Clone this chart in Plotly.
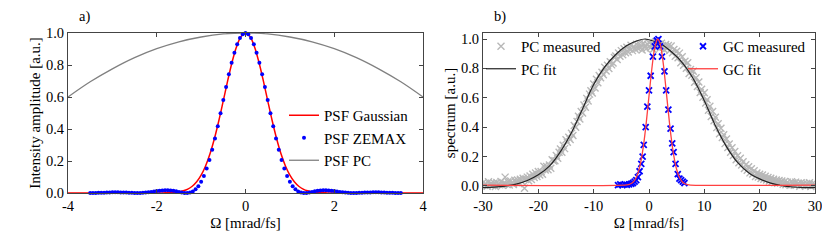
import plotly.graph_objects as go

FONT = "Liberation Serif, Times New Roman, serif"

# ---------------- panel a) data ----------------
gauss_x = [-4.0, -3.0, -2.2, -2.0, -1.9, -1.8, -1.7, -1.6, -1.5, -1.4, -1.3, -1.2, -1.1, -1.0,
           -0.9, -0.8, -0.7, -0.6, -0.5, -0.4, -0.3, -0.2, -0.1, 0.0,
           0.1, 0.2, 0.3, 0.4, 0.5, 0.6, 0.7, 0.8, 0.9, 1.0, 1.1, 1.2, 1.3, 1.4,
           1.5, 1.6, 1.7, 1.8, 1.9, 2.0, 2.2, 3.0, 4.0]
gauss_y = [0.0, 0.0, 0.0, 0.0002, 0.0004, 0.0008, 0.0017, 0.0036, 0.0071, 0.0135, 0.0244, 0.0422, 0.0700, 0.1110,
           0.1686, 0.2449, 0.3406, 0.4533, 0.5773, 0.7035, 0.8205, 0.9158, 0.9783, 1.0,
           0.9783, 0.9158, 0.8205, 0.7035, 0.5773, 0.4533, 0.3406, 0.2449, 0.1686, 0.1110, 0.0700, 0.0422, 0.0244, 0.0135,
           0.0071, 0.0036, 0.0017, 0.0008, 0.0004, 0.0002, 0.0, 0.0, 0.0]

zemax_x = [round(-3.5 + 0.0625 * j, 4) for j in range(113)]
zemax_y = [0.0000, 0.0002, 0.0005, 0.0010, 0.0016, 0.0023, 0.0030, 0.0036, 0.0040, 0.0041, 0.0041, 0.0037,
           0.0032, 0.0024, 0.0016, 0.0008, 0.0002, 0.0000, 0.0002, 0.0010, 0.0024, 0.0044, 0.0067, 0.0094,
           0.0121, 0.0145, 0.0164, 0.0174, 0.0173, 0.0161, 0.0138, 0.0106, 0.0068, 0.0032, 0.0007, 0.0001,
           0.0028, 0.0100, 0.0229, 0.0427, 0.0705, 0.1070, 0.1525, 0.2068, 0.2698, 0.3405, 0.4175, 0.4980,
           0.5810, 0.6630, 0.7415, 0.8138, 0.8772, 0.9293, 0.9680, 0.9919, 1.0000,
           0.9919, 0.9680, 0.9293, 0.8772, 0.8138, 0.7415, 0.6630, 0.5810,
           0.4980, 0.4175, 0.3405, 0.2698, 0.2068, 0.1525, 0.1070, 0.0705, 0.0427, 0.0229, 0.0100, 0.0028,
           0.0001, 0.0007, 0.0032, 0.0068, 0.0106, 0.0138, 0.0161, 0.0173, 0.0174, 0.0164, 0.0145, 0.0121,
           0.0094, 0.0067, 0.0044, 0.0024, 0.0010, 0.0002, 0.0000, 0.0002, 0.0008, 0.0016, 0.0024, 0.0032,
           0.0037, 0.0041, 0.0041, 0.0040, 0.0036, 0.0030, 0.0023, 0.0016, 0.0010, 0.0005, 0.0002, 0.0000]

pca_x = [-4.0, -3.5, -3.0, -2.5, -2.0, -1.5, -1.0, -0.5, 0.0, 0.5, 1.0, 1.5, 2.0, 2.5, 3.0, 3.5, 4.0]
pca_y = [0.600, 0.695, 0.776, 0.846, 0.902, 0.945, 0.975, 0.994, 1.0,
         0.994, 0.975, 0.945, 0.902, 0.846, 0.776, 0.695, 0.600]

a_xticks = [-4, -2, 0, 2, 4]
a_xlabels = ["-4", "-2", "0", "2", "4"]
a_yticks = [0.0, 0.2, 0.4, 0.6, 0.8, 1.0]
a_ylabels = ["0.0", "0.2", "0.4", "0.6", "0.8", "1.0"]

# ---------------- panel b) data ----------------
pcm_x = [round(-30 + 0.25 * i, 2) for i in range(241)]
pcm_y = [
    0.022, 0.005, 0.015, -0.002, 0.028, 0.010, 0.018, 0.001,
    0.020, -0.003, 0.024, 0.012, 0.008, 0.030, 0.004, 0.019,
    0.060, 0.012, 0.028, 0.006, 0.034, 0.018, 0.010, 0.038,
    0.022, 0.040, 0.015, 0.045, 0.030, 0.052, -0.015, 0.048,
    0.060, 0.035, 0.068, 0.044, 0.080, 0.058, 0.088, 0.065,
    0.098, 0.075, 0.098, 0.079, 0.134, 0.108, 0.133, 0.110,
    0.143, 0.120, 0.179, 0.170, 0.171, 0.207, 0.188, 0.230,
    0.251, 0.229, 0.277, 0.254, 0.314, 0.297, 0.331, 0.316,
    0.358, 0.344, 0.411, 0.399, 0.439, 0.474, 0.455, 0.506,
    0.497, 0.551, 0.535, 0.596, 0.578, 0.625, 0.648, 0.633,
    0.694, 0.667, 0.726, 0.702, 0.751, 0.737, 0.774, 0.757,
    0.808, 0.782, 0.822, 0.799, 0.846, 0.824, 0.837, 0.875,
    0.884, 0.861, 0.905, 0.882, 0.921, 0.893, 0.934, 0.906,
    0.944, 0.912, 0.935, 0.958, 0.921, 0.947, 0.930, 0.965,
    0.937, 0.968, 0.945, 0.925, 0.972, 0.951, 0.934, 0.962,
    0.976, 0.940, 0.962, 0.929, 0.958, 0.981, 0.944, 0.966,
    0.938, 0.971, 0.950, 0.927, 0.963, 0.935, 0.956, 0.922,
    0.952, 0.906, 0.928, 0.882, 0.917, 0.873, 0.904, 0.839,
    0.880, 0.822, 0.849, 0.801, 0.838, 0.766, 0.793, 0.753,
    0.780, 0.706, 0.736, 0.677, 0.708, 0.636, 0.658, 0.604,
    0.635, 0.564, 0.586, 0.515, 0.543, 0.472, 0.506, 0.443,
    0.468, 0.397, 0.424, 0.356, 0.393, 0.329, 0.349, 0.288,
    0.320, 0.261, 0.286, 0.229, 0.260, 0.208, 0.235, 0.179,
    0.205, 0.158, 0.188, 0.142, 0.165, 0.118, 0.144, 0.107,
    0.130, 0.089, 0.117, 0.081, 0.103, 0.064, 0.088, 0.061,
    0.080, 0.050, 0.075, 0.046, 0.066, 0.040, 0.058, 0.033,
    0.052, 0.028, 0.046, 0.022, 0.040, 0.018, 0.037, 0.020,
    0.034, 0.012, 0.030, 0.008, 0.026, 0.014, 0.005, 0.028,
    0.022, 0.004, 0.026, 0.010, 0.018, -0.002, 0.021, 0.007,
    0.019, 0.001, 0.016, 0.006, 0.022, -0.003, 0.014, 0.004,
    0.012]

pcf_x = [-30, -28, -26, -24, -22, -20, -18, -16, -14, -12, -10, -8, -6, -4, -2, -0.7,
         0, 2, 4, 6, 8, 10, 12, 14, 16, 18, 20, 22, 24, 26, 28, 30]
pcf_y = [-0.011, -0.008, -0.001, 0.012, 0.037, 0.076, 0.135, 0.234, 0.364, 0.526, 0.690, 0.810,
         0.895, 0.956, 0.990, 1.0,
         0.995, 0.970, 0.915, 0.840, 0.730, 0.580, 0.410, 0.268, 0.160, 0.090, 0.048, 0.019,
         0.002, -0.007, -0.011, -0.012]

gcm_x = [-5.6, -5.2, -4.8, -4.4, -4.0, -3.6, -3.2, -2.9, -2.6, -2.3, -2.0, -1.7, -1.4, -1.15,
         -0.95, -0.6, -0.3, 0.0, 0.3, 0.7, 1.05, 1.4, 1.7, 2.0, 2.35, 2.8, 3.1, 3.5, 3.9, 4.2,
         4.45, 4.8, 5.2, 5.5, 5.8, 6.1, 6.4]
gcm_y = [0.005, 0.010, 0.005, 0.010, 0.008, 0.010, 0.015, 0.020, 0.030, 0.040, 0.060, 0.100, 0.150, 0.200,
         0.280, 0.400, 0.540, 0.650, 0.750, 0.880, 0.950, 0.990, 1.000, 0.950, 0.880, 0.780, 0.650,
         0.520, 0.390, 0.290, 0.230, 0.150, 0.080, 0.050, 0.040, 0.030, 0.020]

gcf_x = [-30, -4.0, -3.5, -3.0, -2.5, -2.0, -1.5, -1.0, -0.5, 0.0, 0.5, 1.0, 1.5, 1.6, 2.0, 2.5,
         3.0, 3.5, 4.0, 4.5, 5.0, 5.5, 6.0, 6.5, 7.0, 7.5, 30]
gcf_y = [0.005, 0.0074, 0.0116, 0.0217, 0.0438, 0.0865, 0.1606, 0.2748, 0.4297, 0.6120, 0.7927,
         0.9332, 0.9981, 1.0, 0.9697, 0.8559, 0.6866, 0.5006, 0.3322, 0.2012, 0.1118, 0.0578,
         0.0287, 0.0147, 0.0086, 0.0062, 0.005]

b_xticks = [-30, -20, -10, 0, 10, 20, 30]
b_xlabels = ["-30", "-20", "-10", "0", "10", "20", "30"]
b_yticks = [0.0, 0.2, 0.4, 0.6, 0.8, 1.0]
b_ylabels = ["0.0", "0.2", "0.4", "0.6", "0.8", "1.0"]

W, H = 830, 241
OFF = 8  # page body margin of the browser


def px(x):
    return (x - OFF) / W


def py(y):
    return 1 - (y - OFF) / H


fig = go.Figure()

# panel a
fig.add_trace(go.Scatter(x=pca_x, y=pca_y, mode="lines", name="PSF PC", line=dict(color="#808080", width=1.3, shape="spline"),
                         xaxis="x", yaxis="y", legend="legend", legendrank=3))
fig.add_trace(go.Scatter(x=gauss_x, y=gauss_y, mode="lines", name="PSF Gaussian", line=dict(color="#ff0000", width=1.5, shape="spline"),
                         xaxis="x", yaxis="y", legend="legend", legendrank=1, cliponaxis=False))
fig.add_trace(go.Scatter(x=zemax_x, y=zemax_y, mode="markers", name="PSF ZEMAX", marker=dict(color="#0000ff", size=4),
                         xaxis="x", yaxis="y", legend="legend", legendrank=2, cliponaxis=False))

# panel b
fig.add_trace(go.Scatter(x=pcm_x, y=pcm_y, mode="markers", name="PC measured",
                         marker=dict(symbol="x-thin", size=7, line=dict(color="#b8b8b8", width=1.4), color="#b8b8b8"),
                         xaxis="x2", yaxis="y2", legend="legend2"))
fig.add_trace(go.Scatter(x=pcf_x, y=pcf_y, mode="lines", name="PC fit", line=dict(color="#222222", width=1.2, shape="spline"),
                         xaxis="x2", yaxis="y2", legend="legend2"))
fig.add_trace(go.Scatter(x=gcm_x, y=gcm_y, mode="markers", name="GC measured",
                         marker=dict(symbol="x-thin", size=6, line=dict(color="#0000ff", width=1.8), color="#0000ff"),
                         xaxis="x2", yaxis="y2", legend="legend3"))
fig.add_trace(go.Scatter(x=gcf_x, y=gcf_y, mode="lines", name="GC fit", line=dict(color="#ff4040", width=1.3, shape="spline"),
                         xaxis="x2", yaxis="y2", legend="legend3"))

ydom = [py(193), py(33)]

common = dict(showline=True, linecolor="#444444", linewidth=1, mirror="ticks", ticks="inside", ticklen=4,
              tickcolor="#444444", showgrid=False, zeroline=False, automargin=False,
              tickfont=dict(family=FONT, size=14.5, color="black"))
tfont = dict(family=FONT, size=15, color="black")
lfont = dict(family=FONT, size=15, color="black")

fig.update_layout(
    template="none",
    width=W, height=H,
    margin=dict(l=0, r=0, t=0, b=0, autoexpand=False),
    paper_bgcolor="white", plot_bgcolor="white",
    font=dict(family=FONT, size=14, color="black"),
    xaxis=dict(domain=[px(68), px(423)], range=[-4, 4], tickvals=a_xticks, ticktext=a_xlabels, anchor="y",
               title=dict(text="Ω [mrad/fs]", font=tfont, standoff=4), **common),
    yaxis=dict(domain=ydom, range=[0, 1], tickvals=a_yticks, ticktext=a_ylabels, anchor="x",
               title=dict(text="Intensity amplitude [a.u.]", font=tfont, standoff=1), **common),
    xaxis2=dict(domain=[px(483), px(815)], range=[-30, 30], tickvals=b_xticks, ticktext=b_xlabels, anchor="y2",
                title=dict(text="Ω [mrad/fs]", font=tfont, standoff=4), **common),
    yaxis2=dict(domain=ydom, range=[-0.048, 1.041], tickvals=b_yticks, ticktext=b_ylabels, anchor="x2",
                title=dict(text="spectrum [a.u.]", font=tfont, standoff=1), **common),
    legend=dict(x=px(284), y=py(99), xanchor="left", yanchor="top", bgcolor="rgba(0,0,0,0)",
                font=lfont, tracegroupgap=0),
    legend2=dict(x=px(481), y=py(30), xanchor="left", yanchor="top", bgcolor="rgba(0,0,0,0)",
                 font=lfont),
    legend3=dict(x=px(683), y=py(30), xanchor="left", yanchor="top", bgcolor="rgba(0,0,0,0)",
                 font=lfont),
    annotations=[
        dict(text="a)", x=px(77), y=py(17), xref="paper", yref="paper", xanchor="left", yanchor="middle",
             showarrow=False, font=dict(family=FONT, size=14.5)),
        dict(text="b)", x=px(492), y=py(17), xref="paper", yref="paper", xanchor="left", yanchor="middle",
             showarrow=False, font=dict(family=FONT, size=14.5)),
    ],
)

fig.write_html("out.html")
